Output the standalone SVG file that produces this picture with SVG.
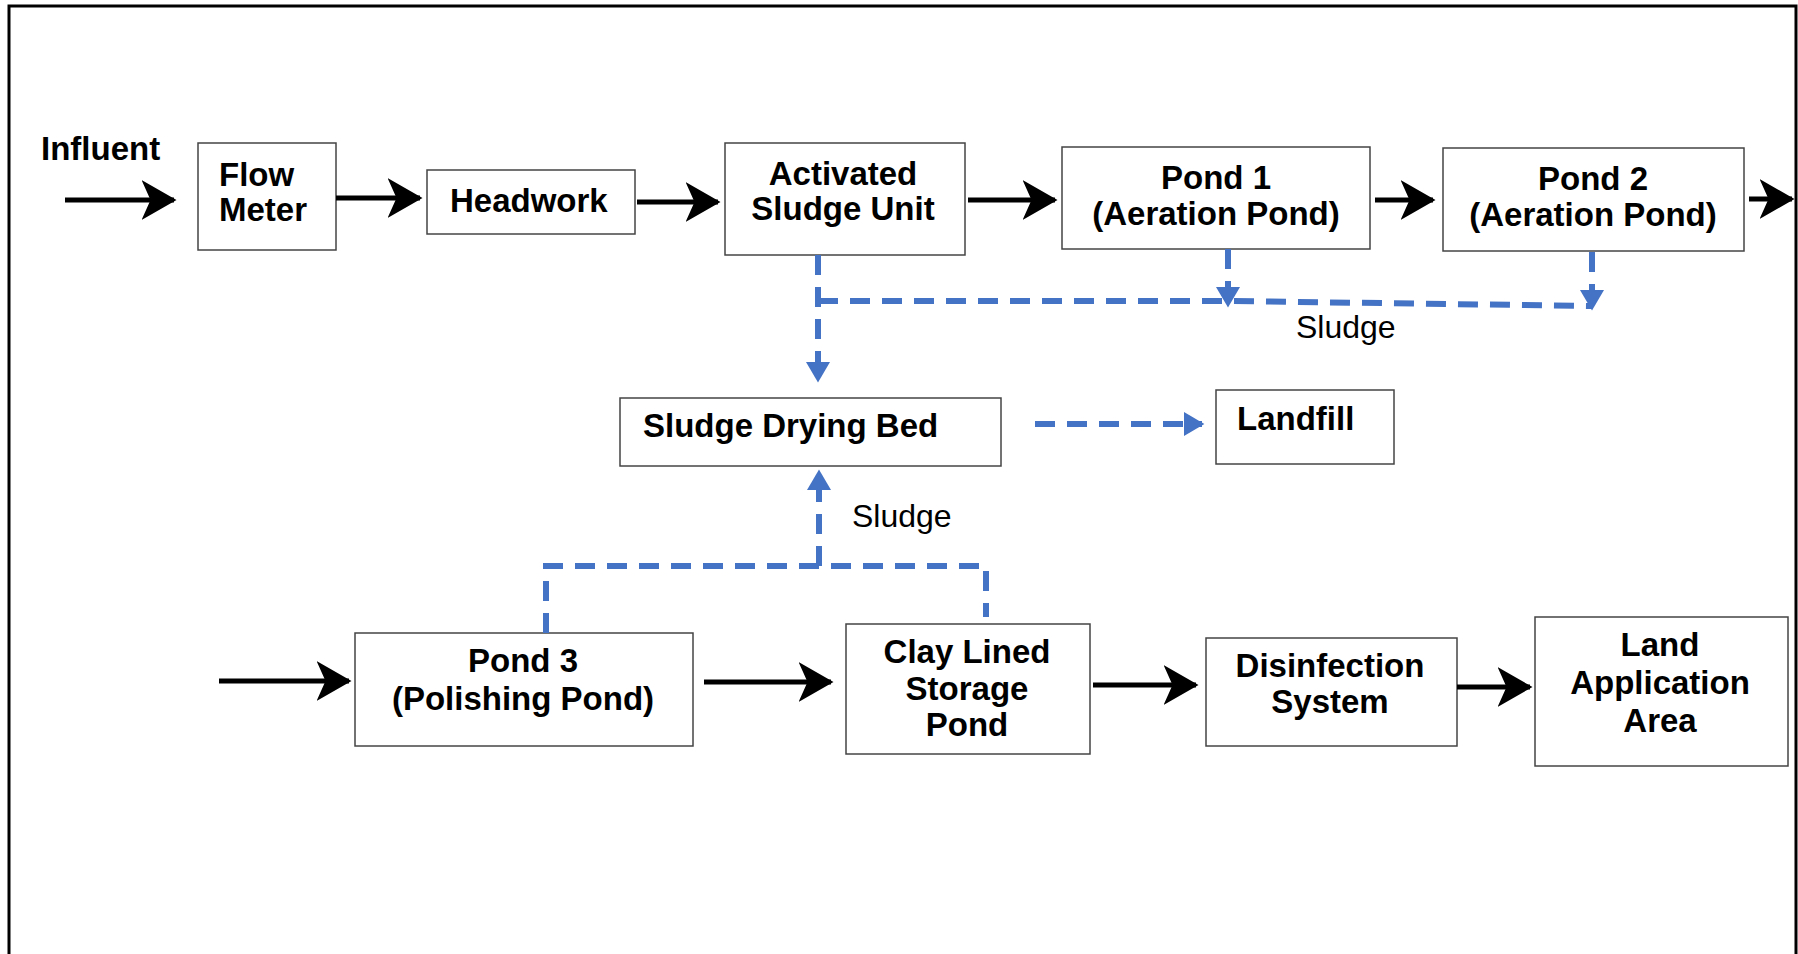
<svg xmlns="http://www.w3.org/2000/svg" width="1798" height="954" viewBox="0 0 1798 954">
<defs>
<style>
.box{fill:#fff;stroke:#444;stroke-width:1.5}
.b{font-family:"Liberation Sans",Arial,sans-serif;font-weight:bold;font-size:33px;fill:#000}
.c{text-anchor:middle}
.r{font-family:"Liberation Sans",Arial,sans-serif;font-size:32px;fill:#000}
.flow{stroke:#000;stroke-width:5;fill:none}
.sl{stroke:#4472C4;stroke-width:6;fill:none;stroke-dasharray:20 12}
</style>
<marker id="ah" markerWidth="8" markerHeight="8" refX="6.5" refY="4" orient="auto" markerUnits="strokeWidth">
<path d="M0,0 L7,4 L0,8 L1.8,4 z" fill="#000"/>
</marker>
<marker id="bh" markerWidth="4" markerHeight="4" refX="3" refY="2" orient="auto" markerUnits="strokeWidth">
<path d="M0,0 L3.4,2 L0,4 z" fill="#4472C4"/>
</marker>
</defs>
<rect width="1798" height="954" fill="#fff"/>
<path d="M9,954 V6 H1796 V954" fill="none" stroke="#000" stroke-width="3"/>
<text class="b" x="41" y="160">Influent</text>
<g id="flowmeter"><rect class="box" x="198" y="143" width="138" height="107"/><text class="b" x="219" y="186">Flow</text><text class="b" x="219" y="221">Meter</text></g>
<g id="headwork"><rect class="box" x="427" y="170" width="208" height="64"/><text class="b" x="450" y="212">Headwork</text></g>
<g id="asu"><rect class="box" x="725" y="143" width="240" height="112"/><text class="b c" x="843" y="185">Activated</text><text class="b c" x="843" y="220">Sludge Unit</text></g>
<g id="pond1"><rect class="box" x="1062" y="147" width="308" height="102"/><text class="b c" x="1216" y="189">Pond 1</text><text class="b c" x="1216" y="225">(Aeration Pond)</text></g>
<g id="pond2"><rect class="box" x="1443" y="148" width="301" height="103"/><text class="b c" x="1593" y="190">Pond 2</text><text class="b c" x="1593" y="226">(Aeration Pond)</text></g>
<g id="sdb"><rect class="box" x="620" y="398" width="381" height="68"/><text class="b" x="643" y="437">Sludge Drying Bed</text></g>
<g id="landfill"><rect class="box" x="1216" y="390" width="178" height="74"/><text class="b" x="1237" y="430">Landfill</text></g>
<g id="pond3"><rect class="box" x="355" y="633" width="338" height="113"/><text class="b c" x="523" y="672">Pond 3</text><text class="b c" x="523" y="710">(Polishing Pond)</text></g>
<g id="clay"><rect class="box" x="846" y="624" width="244" height="130"/><text class="b c" x="967" y="663">Clay Lined</text><text class="b c" x="967" y="700">Storage</text><text class="b c" x="967" y="736">Pond</text></g>
<g id="disinf"><rect class="box" x="1206" y="638" width="251" height="108"/><text class="b c" x="1330" y="677">Disinfection</text><text class="b c" x="1330" y="713">System</text></g>
<g id="land"><rect class="box" x="1535" y="617" width="253" height="149"/><text class="b c" x="1660" y="656">Land</text><text class="b c" x="1660" y="694">Application</text><text class="b c" x="1660" y="732">Area</text></g>
<g id="connectors">
<line class="flow" x1="65" y1="200" x2="174" y2="200" marker-end="url(#ah)"/>
<line class="flow" x1="336" y1="198" x2="420" y2="198" marker-end="url(#ah)"/>
<line class="flow" x1="637" y1="202" x2="718" y2="202" marker-end="url(#ah)"/>
<line class="flow" x1="968" y1="200" x2="1055" y2="200" marker-end="url(#ah)"/>
<line class="flow" x1="1375" y1="200" x2="1433" y2="200" marker-end="url(#ah)"/>
<line class="flow" x1="1749" y1="199" x2="1792" y2="199" marker-end="url(#ah)"/>
<line class="flow" x1="219" y1="681" x2="349" y2="681" marker-end="url(#ah)"/>
<line class="flow" x1="704" y1="682" x2="831" y2="682" marker-end="url(#ah)"/>
<line class="flow" x1="1093" y1="685" x2="1196" y2="685" marker-end="url(#ah)"/>
<line class="flow" x1="1457" y1="687" x2="1530" y2="687" marker-end="url(#ah)"/>
<path class="sl" d="M818,255 V380" marker-end="url(#bh)"/>
<path class="sl" d="M818,301 H1228 L1592,306"/>
<path class="sl" d="M1228,249 V305" marker-end="url(#bh)"/>
<path class="sl" d="M1592,252 V308" marker-end="url(#bh)"/>
<path class="sl" d="M1035,424 H1202" marker-end="url(#bh)"/>
<path class="sl" d="M546,633 V566 H986 V617"/>
<path class="sl" d="M819,566 V472" marker-end="url(#bh)"/>
<text class="r" x="1296" y="338">Sludge</text>
<text class="r" x="852" y="527">Sludge</text>
</g>
</svg>
